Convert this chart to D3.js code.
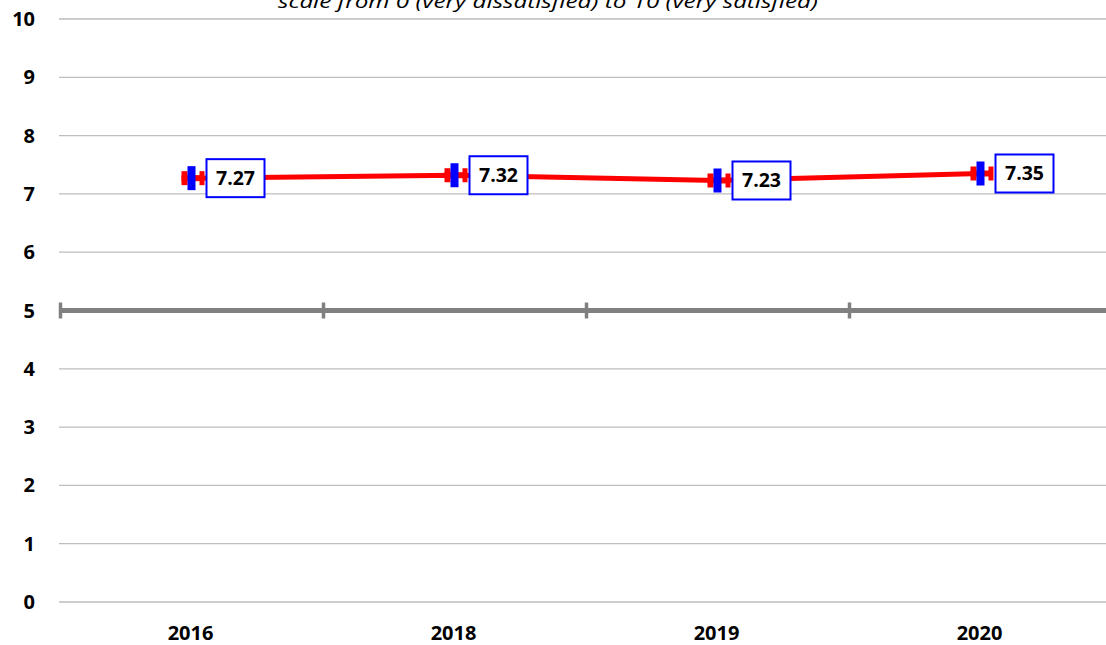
<!DOCTYPE html>
<html lang="en">
	<head>
		<meta charset="utf-8">
		<title>Satisfaction scale by year</title>
		<script src="https://cdn.jsdelivr.net/npm/d3@7"></script>
		<style type="text/css">
			body { margin: 0; background: #fff; }
			text { font-family: "Open Sans", "Noto Sans", sans-serif; }
		</style>
	</head>
	<body>
		<script type="text/javascript">

			//Data
			let years = ["2016", "2018", "2019", "2020"];
			let scores = [7.27, 7.32, 7.23, 7.35];
			let yTicks = [0, 1, 2, 3, 4, 5, 6, 7, 8, 9, 10];
			let subtitle = "scale from 0 (very dissatisfied) to 10 (very satisfied)";

			//Width and height
			let w = 1106;
			let h = 645;

			let x = d3.scaleBand()
						.domain(years)
						.range([59, 1111]);

			let y = d3.scaleLinear()
						.domain([0, 10])
						.range([602, 19]);

			let svg = d3.select("body")
						.append("svg")
						.attr("width", w)
						.attr("height", h);

			//Subtitle, cut off at the top like the original
			svg.append("text")
			   .attr("x", 548)
			   .attr("y", 8)
			   .attr("text-anchor", "middle")
			   .attr("font-size", 19)
			   .attr("font-style", "italic")
			   .attr("textLength", 540)
			   .attr("lengthAdjust", "spacingAndGlyphs")
			   .text(subtitle);

			//Horizontal gridlines
			svg.selectAll("line.grid")
			   .data(yTicks.filter(d => d !== 5))
			   .enter()
			   .append("line")
			   .attr("class", "grid")
			   .attr("x1", 59)
			   .attr("x2", w)
			   .attr("y1", d => y(d))
			   .attr("y2", d => y(d))
			   .attr("stroke", "#bdbdbd")
			   .attr("stroke-width", 1.3);

			//Y labels
			svg.selectAll("text.ylab")
			   .data(yTicks)
			   .enter()
			   .append("text")
			   .attr("class", "ylab")
			   .attr("x", 35)
			   .attr("y", d => y(d) + 7)
			   .attr("text-anchor", "end")
			   .attr("font-size", 20)
			   .attr("font-weight", "bold")
			   .text(d => d);

			//Category axis crossing at 5
			svg.append("line")
			   .attr("x1", 59)
			   .attr("x2", w)
			   .attr("y1", y(5))
			   .attr("y2", y(5))
			   .attr("stroke", "#808080")
			   .attr("stroke-width", 5);

			let bounds = years.map(d => x(d)).concat([x.range()[1]]);
			svg.selectAll("line.tick5")
			   .data(bounds)
			   .enter()
			   .append("line")
			   .attr("class", "tick5")
			   .attr("x1", d => d + 1.5)
			   .attr("x2", d => d + 1.5)
			   .attr("y1", y(5) - 8)
			   .attr("y2", y(5) + 8)
			   .attr("stroke", "#808080")
			   .attr("stroke-width", 3.5);

			//X labels
			svg.selectAll("text.xlab")
			   .data(years)
			   .enter()
			   .append("text")
			   .attr("class", "xlab")
			   .attr("x", d => x(d) + x.bandwidth() / 2)
			   .attr("y", 640)
			   .attr("text-anchor", "middle")
			   .attr("font-size", 20)
			   .attr("font-weight", "bold")
			   .text(d => d);

			let pts = years.map((d, i) => ({ year: d, value: scores[i] }));
			let cx = d => x(d.year) + x.bandwidth() / 2 + 1;

			//Series line
			let line = d3.line()
						 .x(cx)
						 .y(d => y(d.value));

			svg.append("path")
			   .datum(pts)
			   .attr("d", line)
			   .attr("fill", "none")
			   .attr("stroke", "#ff0000")
			   .attr("stroke-width", 5);

			//Markers
			let m = svg.selectAll("g.marker")
					   .data(pts)
					   .enter()
					   .append("g")
					   .attr("class", "marker")
					   .attr("transform", d => "translate(" + cx(d) + "," + y(d.value) + ")");

			m.append("rect")
			 .attr("x", -10).attr("y", -3).attr("width", 22).attr("height", 6)
			 .attr("fill", "#ff0000");
			m.append("rect")
			 .attr("x", -10).attr("y", -7).attr("width", 6).attr("height", 14)
			 .attr("fill", "#ff0000");
			m.append("rect")
			 .attr("x", 8).attr("y", -7).attr("width", 5).attr("height", 14)
			 .attr("fill", "#ff0000");
			m.append("rect")
			 .attr("x", -4).attr("y", -12).attr("width", 8).attr("height", 24)
			 .attr("fill", "#0000ff");

			//Data labels
			m.append("rect")
			 .attr("x", 15).attr("y", -19).attr("width", 58).attr("height", 38)
			 .attr("fill", "#fff")
			 .attr("stroke", "#0000ff")
			 .attr("stroke-width", 2);

			m.append("text")
			 .attr("x", 44)
			 .attr("y", 7)
			 .attr("text-anchor", "middle")
			 .attr("font-size", 19.5)
			 .attr("font-weight", "bold")
			 .text(d => d.value.toFixed(2));

		</script>
	</body>
</html>
